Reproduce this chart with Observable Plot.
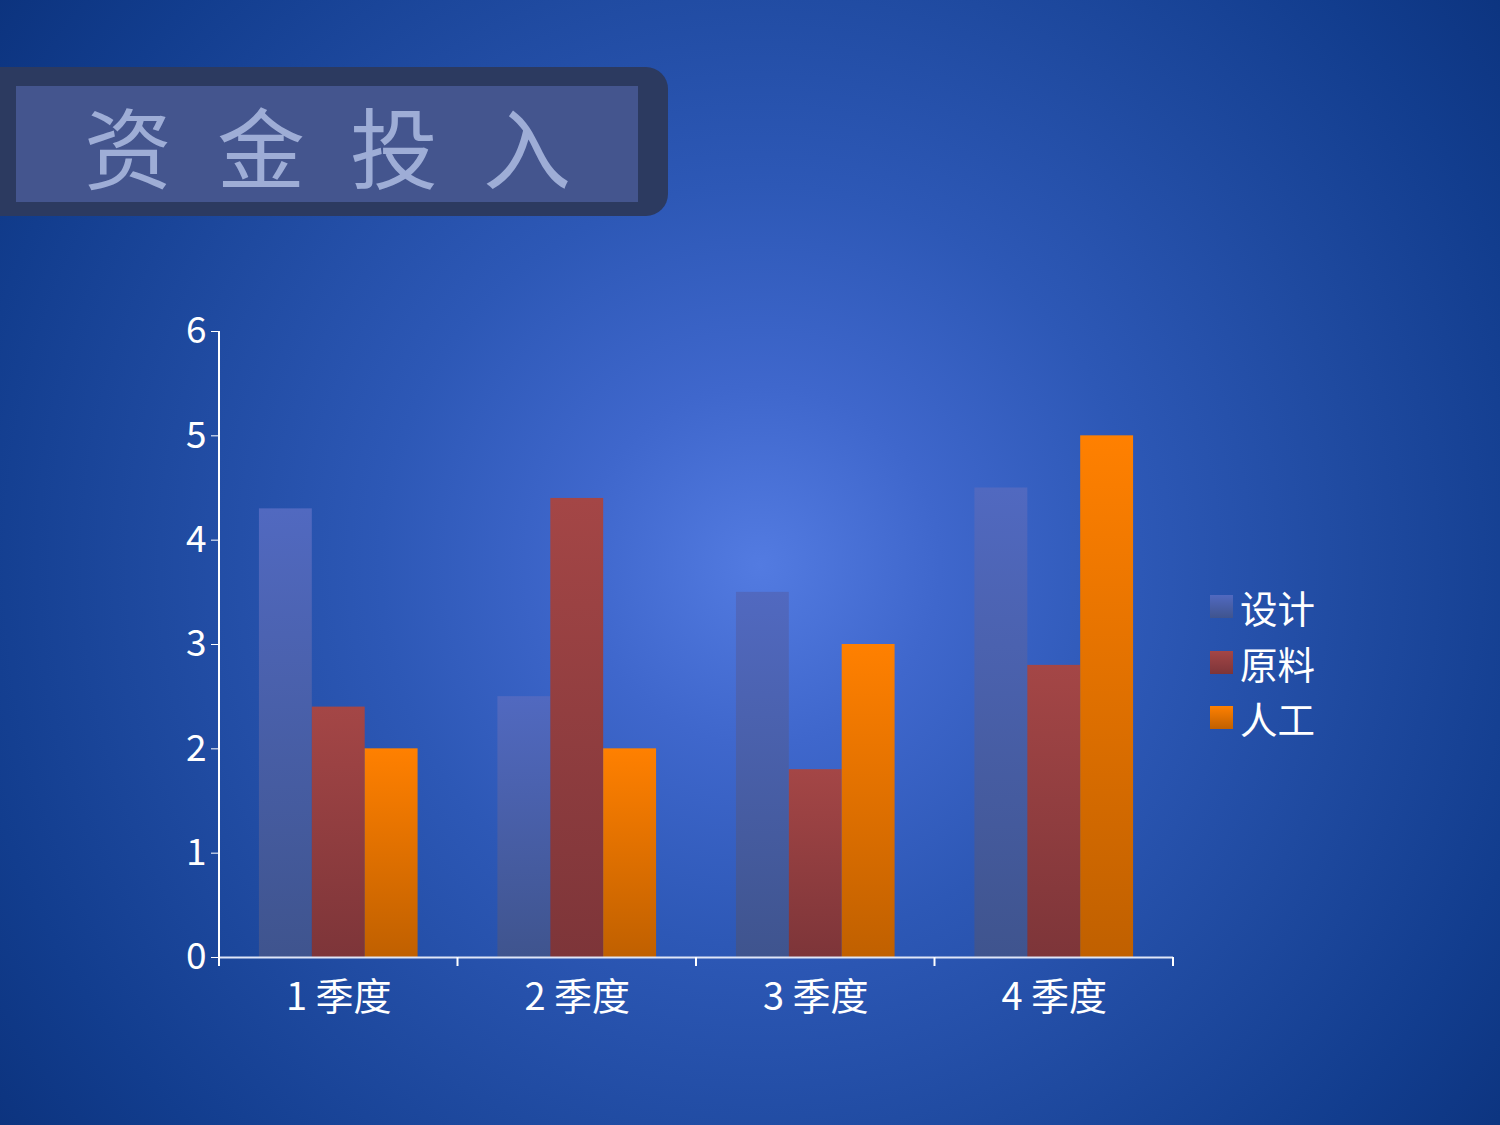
<!DOCTYPE html>
<html>
<head>
<meta charset="utf-8">
<script src="https://cdn.jsdelivr.net/npm/d3@7"></script>
<script src="https://cdn.jsdelivr.net/npm/@observablehq/plot@0.6"></script>
<style>
  html, body { margin: 0; padding: 0; }
  body {
    width: 1500px; height: 1125px; position: relative; overflow: hidden;
    font-family: "Noto Sans CJK SC", "Noto Sans", sans-serif;
    background: radial-gradient(circle 1000px at 760px 565px, #537be1 0px, #3f67cc 180px, #2d58b6 380px, #1f4aa0 600px, #123d8e 800px, #0a3079 1000px);
  }
  #titlebox {
    position: absolute; left: -20px; top: 67px; width: 688px; height: 149px;
    background: #2c3a60; border-radius: 22px;
  }
  #titleinner {
    position: absolute; left: 16px; top: 86px; width: 622px; height: 116px;
    background: #44558e;
  }
  #titletext {
    position: absolute; left: 84px; top: 86px; height: 116px; line-height: 116px;
    font-size: 88px; letter-spacing: 45px; color: #9eadd6; white-space: nowrap;
  }
  #chart { position: absolute; left: 0; top: 0; }
  #legend { position: absolute; left: 1210px; top: 579px; color: #fff; font-size: 37.5px; }
  .row { display: flex; align-items: center; height: 55.5px; }
  .sw { width: 23px; height: 23px; margin-right: 7px; }
</style>
</head>
<body>
<div id="titlebox"></div>
<div id="titleinner"></div>
<div id="titletext">资金投入</div>
<div id="chart"></div>
<div id="legend"></div>
<script>
const quarters = ["1 季度", "2 季度", "3 季度", "4 季度"];
const seriesNames = ["设计", "原料", "人工"];
const design = [4.3, 2.5, 3.5, 4.5];
const material = [2.4, 4.4, 1.8, 2.8];
const labor = [2.0, 2.0, 3.0, 5.0];
const yTicks = [0, 1, 2, 3, 4, 5, 6];
const gradTop = ["#5169c0", "#a44646", "#ff8000"];
const gradBottom = ["#3f548e", "#7d3539", "#c06000"];

const seriesValues = [design, material, labor];
const data = [];
quarters.forEach((q, qi) => seriesNames.forEach((s, si) => data.push({quarter: q, series: s, value: seriesValues[si][qi]})));

const plot = Plot.plot({
  width: 1500, height: 1125,
  marginLeft: 219, marginRight: 327, marginTop: 331, marginBottom: 168,
  style: {background: "transparent", fontFamily: "'Noto Sans CJK SC', sans-serif", color: "#fff", overflow: "visible"},
  fx: {domain: quarters, padding: 0, label: null, round: false},
  x: {domain: seriesNames, paddingInner: 0, paddingOuter: 0.755, axis: null, round: false},
  y: {domain: [0, 6], label: null},
  color: {domain: seriesNames, range: seriesNames.map((s, i) => `url(#g${i})`)},
  marks: [
    Plot.barY(data, {fx: "quarter", x: "series", y: "value", fill: "series", inset: 0}),
    Plot.ruleY([0], {stroke: "#dfe6f7", strokeWidth: 2}),
    Plot.axisY({ticks: yTicks, tickFormat: d => d, tickSize: 8, tickPadding: 5, stroke: "#fff", fill: "#fff", fontSize: 37, label: null}),
    Plot.axisFx({anchor: "bottom", tickSize: 0, tickPadding: 26, fontSize: 38, fill: "#fff", label: null})
  ]
});

const svg = d3.select(plot);
const defs = svg.insert("defs", ":first-child");
seriesNames.forEach((s, i) => {
  const g = defs.append("linearGradient").attr("id", `g${i}`).attr("x1", 0).attr("y1", 0).attr("x2", 0).attr("y2", 1);
  g.append("stop").attr("offset", "0%").attr("stop-color", gradTop[i]);
  g.append("stop").attr("offset", "100%").attr("stop-color", gradBottom[i]);
});

// axis line and boundary ticks from the scales
const ys = plot.scale("y");
const fxs = plot.scale("fx");
const y0 = ys.apply(0), y6 = ys.apply(6);
const left = fxs.apply(quarters[0]);
const bounds = quarters.map(q => fxs.apply(q)).concat([fxs.apply(quarters[quarters.length - 1]) + fxs.bandwidth]);
const ov = svg.append("g").attr("stroke", "#fff").attr("stroke-width", 2);
ov.append("line").attr("x1", left).attr("x2", left).attr("y1", y6).attr("y2", y0);
bounds.forEach(b => ov.append("line").attr("x1", b).attr("x2", b).attr("y1", y0).attr("y2", y0 + 9));

document.getElementById("chart").appendChild(plot);

const legend = document.getElementById("legend");
seriesNames.forEach((s, i) => {
  const row = document.createElement("div");
  row.className = "row";
  const sw = document.createElement("div");
  sw.className = "sw";
  sw.style.background = `linear-gradient(${gradTop[i]}, ${gradBottom[i]})`;
  const t = document.createElement("span");
  t.textContent = s;
  row.appendChild(sw); row.appendChild(t);
  legend.appendChild(row);
});
</script>
</body>
</html>
